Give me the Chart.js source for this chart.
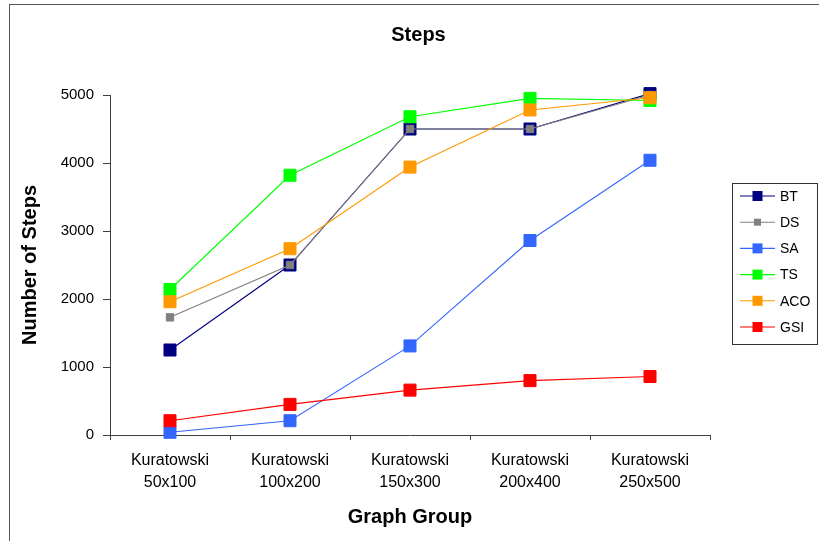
<!DOCTYPE html>
<html>
<head>
<meta charset="utf-8">
<title>Steps</title>
<script src="https://cdn.jsdelivr.net/npm/chart.js@4/dist/chart.umd.min.js"></script>
<style>
  html, body { margin: 0; padding: 0; background: #fff; overflow: hidden; }
  #wrap { position: relative; width: 819px; height: 541px; }
  #frame {
    position: absolute; left: 9px; top: 4px; width: 900px; height: 600px;
    border: 1px solid #555; pointer-events: none;
  }
  canvas { position: absolute; left: 0; top: 0; }
</style>
</head>
<body>
<div id="wrap">
  <canvas id="stepsChart" width="819" height="541"></canvas>
  <div id="frame"></div>
</div>
<script>
// Chart data
const groups = [
  ['Kuratowski', '50x100'],
  ['Kuratowski', '100x200'],
  ['Kuratowski', '150x300'],
  ['Kuratowski', '200x400'],
  ['Kuratowski', '250x500']
];
const btSteps  = [1250, 2500, 4500, 4500, 5020];
const dsSteps  = [1730, 2500, 4500, 4500, 5000];
const saSteps  = [40, 210, 1310, 2860, 4040];
const tsSteps  = [2140, 3820, 4680, 4950, 4920];
const acoSteps = [1960, 2740, 3940, 4780, 4960];
const gsiSteps = [210, 450, 660, 800, 860];
const yTicks = [0, 1000, 2000, 3000, 4000, 5000];

const FONT = 'Arial, "Liberation Sans", sans-serif';

function series(label, data, color, order, radius) {
    return {
        label: label,
        data: data,
        borderColor: color,
        backgroundColor: color,
        pointBackgroundColor: color,
        pointBorderColor: color,
        borderWidth: 1.1,
        pointStyle: 'rect',
        pointRadius: radius || 8.5,
        pointBorderWidth: 1,
        tension: 0,
        clip: false,
        order: order
    };
}

// custom legend: box with line + marker for each series
const stepsLegend = {
    id: 'stepsLegend',
    afterDraw(chart) {
        const ctx = chart.ctx;
        const x0 = 732, y0 = 183, w = 85, h = 161;
        ctx.save();
        ctx.fillStyle = '#fff';
        ctx.fillRect(x0, y0, w, h);
        ctx.strokeStyle = '#333';
        ctx.lineWidth = 1;
        ctx.strokeRect(x0 + 0.5, y0 + 0.5, w, h);
        ctx.font = '14px ' + FONT;
        ctx.textBaseline = 'middle';
        chart.data.datasets.forEach((ds, i) => {
            const y = 196 + i * 26.2;
            ctx.strokeStyle = ds.borderColor;
            ctx.lineWidth = 1.1;
            ctx.beginPath();
            ctx.moveTo(740, y);
            ctx.lineTo(775, y);
            ctx.stroke();
            const s = ds.label === 'DS' ? 7 : 10;
            ctx.fillStyle = ds.backgroundColor;
            ctx.fillRect(757.5 - s / 2, y - s / 2, s, s);
            ctx.fillStyle = '#000';
            ctx.fillText(ds.label, 780, y + 1);
        });
        ctx.restore();
    }
};

const ctx = document.getElementById('stepsChart').getContext('2d');
const stepsChart = new Chart(ctx, {
    type: 'line',
    data: {
        labels: groups,
        datasets: [
            series('BT', btSteps, '#000080', 6),
            series('DS', dsSteps, '#808080', 5, 5.2),
            series('SA', saSteps, '#3366FF', 4),
            series('TS', tsSteps, '#00FF00', 3),
            series('ACO', acoSteps, '#FF9900', 2),
            series('GSI', gsiSteps, '#FF0000', 1)
        ]
    },
    options: {
        responsive: false,
        animation: false,
        devicePixelRatio: 1,
        layout: { padding: { left: 18, right: 0, top: 0, bottom: 0 } },
        plugins: {
            legend: { display: false },
            tooltip: { enabled: false },
            title: {
                display: true,
                text: 'Steps',
                color: '#000',
                font: { family: FONT, size: 20, weight: 'bold', lineHeight: 1.2 },
                padding: { top: 23, bottom: 48 }
            }
        },
        scales: {
            x: {
                type: 'category',
                offset: true,
                grid: {
                    display: true,
                    offset: true,
                    drawOnChartArea: false,
                    drawTicks: true,
                    tickLength: 5,
                    color: '#404040'
                },
                border: { display: true, color: '#404040', width: 1 },
                ticks: {
                    color: '#000',
                    font: { family: FONT, size: 16, lineHeight: 1.35 },
                    padding: 10,
                    maxRotation: 0,
                    autoSkip: false
                },
                title: {
                    display: true,
                    text: 'Graph Group',
                    color: '#000',
                    font: { family: FONT, size: 20, weight: 'bold', lineHeight: 1.2 },
                    padding: { top: 0, bottom: 12 }
                },
                afterFit(scale) { scale.height = 106; }
            },
            y: {
                min: 0,
                max: 5000,
                afterBuildTicks(scale) {
                    scale.ticks = yTicks.map(v => ({ value: v }));
                },
                grid: {
                    display: true,
                    drawOnChartArea: false,
                    drawTicks: true,
                    tickLength: 7,
                    color: '#404040'
                },
                border: { display: true, color: '#404040', width: 1 },
                ticks: {
                    color: '#000',
                    font: { family: FONT, size: 15 },
                    padding: 9,
                    callback: value => String(value)
                },
                title: {
                    display: true,
                    text: 'Number of Steps',
                    color: '#000',
                    font: { family: FONT, size: 20, weight: 'bold', lineHeight: 1.0 },
                    padding: { top: 2, bottom: 0 }
                },
                afterFit(scale) { scale.width = 92; }
            },
            // empty right-hand axis that only reserves room for the legend
            spacer: {
                type: 'linear',
                position: 'right',
                display: true,
                grid: { display: false },
                border: { display: false },
                ticks: { display: false },
                afterFit(scale) { scale.width = 109; }
            }
        }
    },
    plugins: [stepsLegend]
});
</script>
</body>
</html>
